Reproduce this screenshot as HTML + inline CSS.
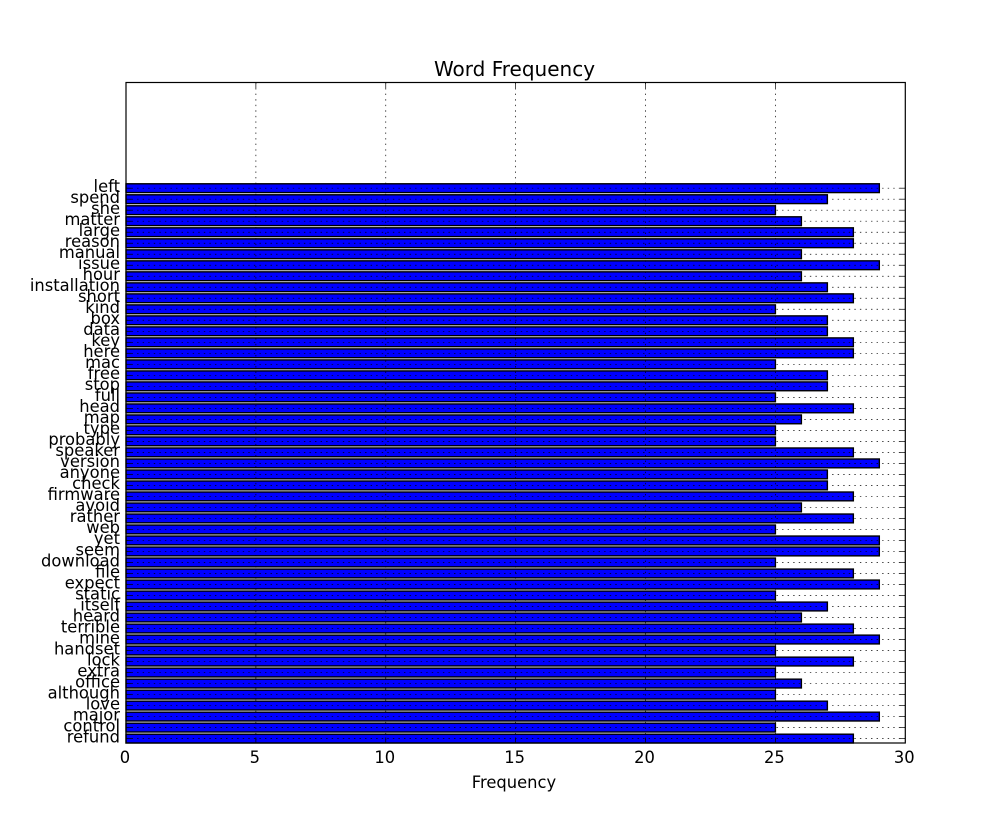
<!DOCTYPE html>
<html>
<head>
<meta charset="utf-8">
<style>
html,body{margin:0;padding:0;background:#fff;width:1005px;height:826px;overflow:hidden}
svg{display:block}
text{font-family:"DejaVu Sans","Liberation Sans",sans-serif;fill:#000}
</style>
</head>
<body>
<svg id="chart" xmlns="http://www.w3.org/2000/svg" width="1005" height="826" viewBox="0 0 1005 826">
<rect x="0" y="0" width="1005" height="826" fill="#fff"/>
<text x="514.5" y="76" font-size="20" text-anchor="middle">Word Frequency</text>
<text transform="translate(514 788) scale(0.98 1)" font-size="16.67" text-anchor="middle">Frequency</text>
</svg>
<script>
const categories = ["refund","control","major","love","although","office","extra","lock","handset","mine","terrible","heard","itself","static","expect","file","download","seem","yet","web","rather","avoid","firmware","check","anyone","version","speaker","probably","type","map","head","full","stop","free","mac","here","key","data","box","kind","short","installation","hour","issue","manual","reason","large","matter","she","spend","left"];
const frequencies = [28,25,29,27,25,26,25,28,25,29,28,26,27,25,29,28,25,29,29,25,28,26,28,27,27,29,28,25,25,26,28,25,27,27,25,28,28,27,27,25,28,27,26,29,26,28,28,26,25,27,29];
const xTicks = [0,5,10,15,20,25,30];
const xDomain = [0,30];
const yDomain = [0,60];
const barHeight = 0.8;

const svg = document.getElementById('chart');
const NS = 'http://www.w3.org/2000/svg';
const plot = {left:126, right:905.3, top:82.5, bottom:743};
const dots = '1.39 4.17';
function xScale(v){return plot.left + (v - xDomain[0]) / (xDomain[1] - xDomain[0]) * (plot.right - plot.left);}
function yScale(v){return plot.bottom - (v - yDomain[0]) / (yDomain[1] - yDomain[0]) * (plot.bottom - plot.top);}
function make(tag, attrs){
  const el = document.createElementNS(NS, tag);
  for (const k in attrs) el.setAttribute(k, attrs[k]);
  svg.appendChild(el);
  return el;
}

const plotBg = make('rect', {x:plot.left, y:plot.top, width:plot.right-plot.left, height:plot.bottom-plot.top, fill:'#fff'});



categories.forEach(function(cat, i){
  const top = yScale(i + barHeight);
  const bottom = yScale(i);
  const bar = make('rect', {x:xScale(0), y:top, width:xScale(frequencies[i])-xScale(0), height:bottom-top, fill:'#0000ff', stroke:'#000', 'stroke-width':1.39});
  
  
});

xTicks.forEach(function(t){
  const x = xScale(t);
  if (t !== xDomain[0] && t !== xDomain[1]) {
    const grid = make('line', {x1:x, x2:x, y1:plot.top, y2:plot.bottom, stroke:'#000', 'stroke-width':0.7, 'stroke-dasharray':dots});
    
    
    const tb = make('line', {x1:x, x2:x, y1:plot.bottom, y2:plot.bottom-5.5, stroke:'#000', 'stroke-width':0.7});
    
    
    const tt = make('line', {x1:x, x2:x, y1:plot.top, y2:plot.top+5.5, stroke:'#000', 'stroke-width':0.7});
    
    
  }
  const label = make('text', {transform:'translate(' + (x - 1) + ' 763) scale(0.98 1)', 'font-size':16.67, 'text-anchor':'middle'});
  label.textContent = String(t);
  
  
});

categories.forEach(function(cat, i){
  const y = yScale(i + barHeight / 2);
  const grid = make('line', {x1:plot.left, x2:plot.right, y1:y, y2:y, stroke:'#000', 'stroke-width':0.7, 'stroke-dasharray':dots});
  
  
  const tl = make('line', {x1:plot.left, x2:plot.left+5.5, y1:y, y2:y, stroke:'#000', 'stroke-width':0.7});
  
  
  const tr = make('line', {x1:plot.right, x2:plot.right-5.5, y1:y, y2:y, stroke:'#000', 'stroke-width':0.7});
  
  
  const label = make('text', {transform:'translate(120 ' + (y + 3.8) + ') scale(0.98 1)', 'font-size':16.67, 'text-anchor':'end'});
  label.textContent = cat;
  
  
});

const frame = make('rect', {x:plot.left, y:plot.top, width:plot.right-plot.left, height:plot.bottom-plot.top, fill:'none', stroke:'#000', 'stroke-width':1.2});


</script>
</body>
</html>
